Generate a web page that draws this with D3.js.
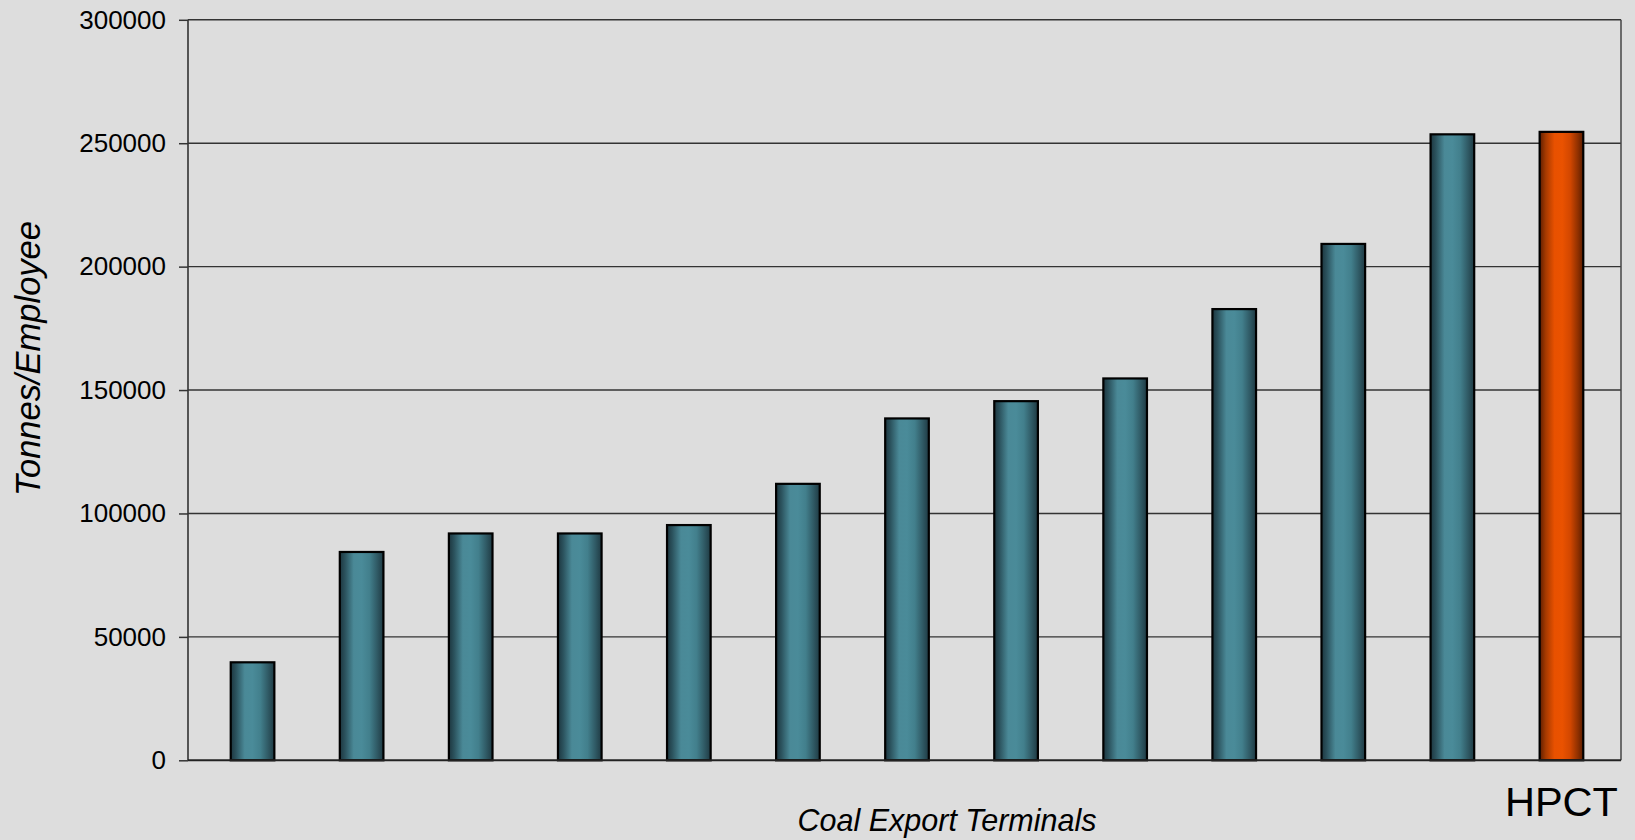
<!DOCTYPE html>
<html>
<head>
<meta charset="utf-8">
<script src="https://cdn.jsdelivr.net/npm/d3@7"></script>
<style>
html,body{margin:0;padding:0;background:#dddddd;}
svg{display:block;}
text{font-family:"Liberation Sans",Arial,sans-serif;fill:#000;}
</style>
</head>
<body>
<svg id="chart" width="1635" height="840"></svg>
<script>
const categories = ["T1","T2","T3","T4","T5","T6","T7","T8","T9","T10","T11","T12","HPCT"];
const categoryLabels = ["","","","","","","","","","","","","HPCT"];
const values = [39700, 84400, 91900, 91900, 95300, 112000, 138500, 145500, 154700, 182800, 209200, 253600, 254600];
const highlight = ["HPCT"];
const yTicks = [0, 50000, 100000, 150000, 200000, 250000, 300000];
const yTitle = "Tonnes/Employee";
const xTitle = "Coal Export Terminals";

const svg = d3.select("#chart");
const W = 1635, H = 840;
const plot = {left: 188, right: 1621, top: 19.8, bottom: 760.3};

const x = d3.scaleBand().domain(categories).range([198, 1616]).paddingInner(0.6).paddingOuter(0.3);
const y = d3.scaleLinear().domain([0, 300000]).range([plot.bottom, plot.top]);

const defs = svg.append("defs");
function grad(id, stops){
  const g = defs.append("linearGradient").attr("id", id).attr("x1","0%").attr("x2","100%").attr("y1","0%").attr("y2","0%");
  stops.forEach(s => g.append("stop").attr("offset", s[0]).attr("stop-color", s[1]));
}
grad("teal", [["0%","#1d363f"],["12%","#2b525d"],["32%","#4a8997"],["50%","#4a8b99"],["68%","#427f8c"],["86%","#2f5964"],["100%","#1f3a43"]]);
grad("orange", [["0%","#5e1e00"],["14%","#a63a00"],["34%","#e85100"],["52%","#ea5200"],["70%","#d24700"],["88%","#8e3000"],["100%","#5a1c00"]]);

// gridlines
svg.append("g").selectAll("line").data(yTicks.filter(d => d > 0)).join("line")
  .attr("x1", plot.left).attr("x2", plot.right)
  .attr("y1", d => y(d)).attr("y2", d => y(d))
  .attr("stroke", "#333333").attr("stroke-width", 1.4);

// frame left/right
svg.append("line").attr("x1", plot.left).attr("x2", plot.left).attr("y1", plot.top).attr("y2", plot.bottom)
  .attr("stroke", "#333").attr("stroke-width", 1.6);
svg.append("line").attr("x1", plot.right).attr("x2", plot.right).attr("y1", plot.top).attr("y2", plot.bottom)
  .attr("stroke", "#444").attr("stroke-width", 1.5);

// y axis
const yAxis = d3.axisLeft(y).tickValues(yTicks).tickSize(9).tickPadding(13).tickFormat(d3.format("d"));
const ya = svg.append("g").attr("transform", `translate(${plot.left},0)`).call(yAxis);
ya.select(".domain").remove();
ya.selectAll(".tick line").attr("stroke", "#333").attr("stroke-width", 1.5);
ya.selectAll(".tick text").attr("font-size", "26px").attr("font-family", "'Liberation Sans', Arial, sans-serif").attr("fill", "#000");

// bars
svg.append("g").selectAll("rect").data(categories).join("rect")
  .attr("x", d => x(d))
  .attr("width", x.bandwidth())
  .attr("y", (d, i) => y(values[i]))
  .attr("height", (d, i) => y(0) - y(values[i]))
  .attr("fill", d => highlight.includes(d) ? "url(#orange)" : "url(#teal)")
  .attr("stroke", "#000").attr("stroke-width", 2.2);

// bottom axis line
svg.append("line").attr("x1", plot.left).attr("x2", plot.right).attr("y1", y(0)).attr("y2", y(0))
  .attr("stroke", "#222").attr("stroke-width", 2);

// category labels
svg.append("g").selectAll("text").data(categories).join("text")
  .attr("x", d => x(d) + x.bandwidth()/2)
  .attr("y", 816)
  .attr("text-anchor", "middle")
  .attr("font-size", "41.5px")
  .text((d, i) => categoryLabels[i]);

// axis titles
svg.append("text").attr("x", 947).attr("y", 831).attr("text-anchor", "middle")
  .attr("font-size", "30.5px").attr("font-style", "italic").text(xTitle);
svg.append("text").attr("transform", "translate(40,358.5) rotate(-90)").attr("text-anchor", "middle")
  .attr("font-size", "34.5px").attr("font-style", "italic").text(yTitle);
</script>
</body>
</html>
